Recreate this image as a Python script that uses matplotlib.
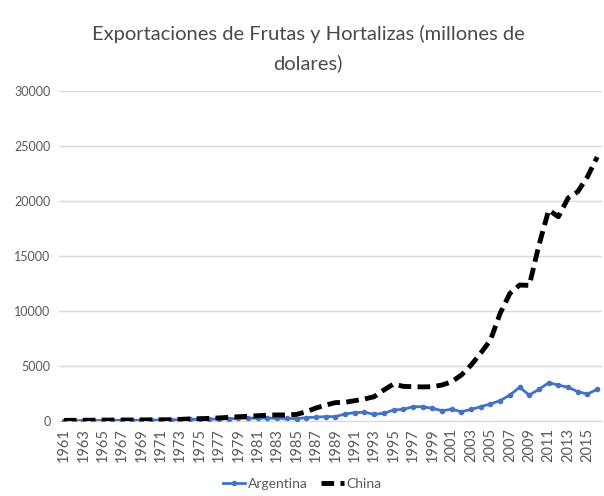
import matplotlib.pyplot as plt
import numpy as np

plt.rcParams['font.family'] = ['Lato', 'DejaVu Sans']

years = list(range(1961, 2017))

# millones de dolares
argentina = [30, 35, 40, 45, 50, 55, 60, 65, 70, 80,
             90, 100, 120, 140, 150, 170, 190, 210, 230, 250,
             260, 260, 250, 230, 220, 300, 350, 400, 400, 640,
             760, 790, 610, 700, 1000, 1060, 1300, 1300, 1150, 940,
             1060, 850, 1060, 1300, 1550, 1850, 2360, 3060, 2360, 2880,
             3480, 3270, 3060, 2670, 2450, 2880]
china = [60, 65, 70, 75, 80, 85, 90, 95, 100, 105,
         110, 120, 150, 190, 210, 240, 280, 330, 390, 430,
         480, 530, 550, 550, 600, 850, 1180, 1450, 1670, 1700,
         1850, 2000, 2210, 2820, 3360, 3150, 3120, 3100, 3120, 3270,
         3570, 4180, 5090, 6180, 7360, 9800, 11600, 12360, 12330, 16000,
         19180, 18570, 20270, 20850, 22200, 24000]

grey = '#595959'

fig = plt.figure(figsize=(6.04, 4.96), dpi=100)
ax = fig.add_axes([0.0977, 0.1512, 0.899, 0.6653])

x = np.arange(len(years))
ax.plot(x, argentina, color='#4472C4', linewidth=2, marker='o', markersize=3,
        label='Argentina', zorder=3)
ax.plot(x, china, color='black', linewidth=3.5, linestyle=(0, (2.6, 1.3)),
        label='China', zorder=4)

ax.set_xlim(-0.5, len(years) - 0.5)
ax.set_ylim(0, 30000)
ax.set_yticks(range(0, 30001, 5000))
ax.set_xticks(x[::2])
ax.set_xticklabels([str(y) for y in years[::2]], rotation=90)
ax.tick_params(axis='both', length=0, colors=grey, labelsize=9)
ax.tick_params(axis='x', labelsize=10.5, pad=5)
ax.tick_params(axis='y', pad=6)
ax.grid(axis='y', color='#d9d9d9', linewidth=1)
ax.set_axisbelow(True)
for side in ['top', 'right', 'left']:
    ax.spines[side].set_visible(False)
ax.spines['bottom'].set_color('#d9d9d9')

fig.text(0.51, 0.932, 'Exportaciones de Frutas y Hortalizas (millones de',
         ha='center', va='center', fontsize=14.5, color='#4a4a4a')
fig.text(0.51, 0.873, 'dolares)', ha='center', va='center', fontsize=14.5,
         color='#4a4a4a')

fig.legend(loc='center', bbox_to_anchor=(0.5, 0.024), ncol=2, frameon=False,
           fontsize=10, labelcolor=grey, handlelength=1.6, columnspacing=1,
           handletextpad=0.2)

fig.savefig('out.png', dpi=100)
